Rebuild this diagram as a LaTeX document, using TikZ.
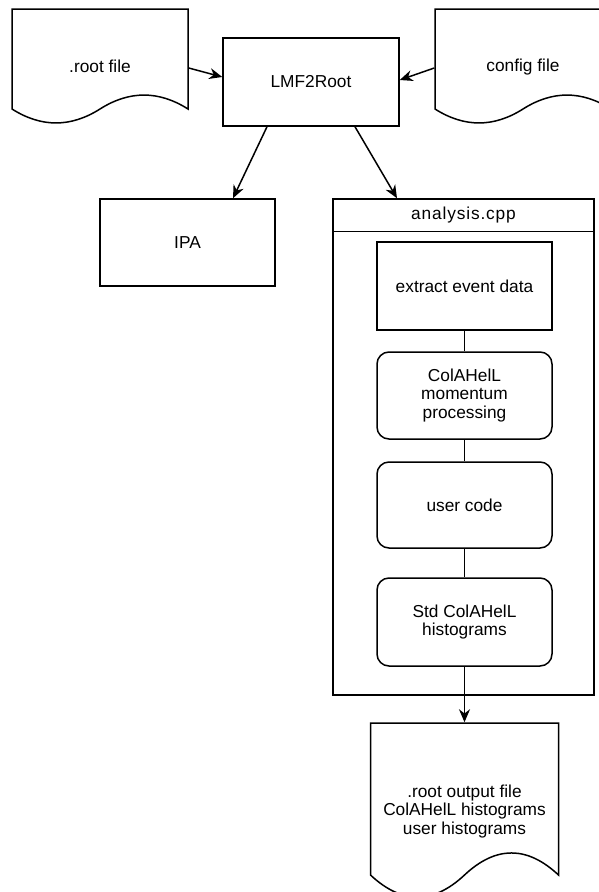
\documentclass[tikz,border=0pt]{standalone}
\usepackage{fontspec}
\setmainfont{Liberation Sans}
\newfontfamily\hdrfont[LetterSpace=5]{Liberation Sans}
\usetikzlibrary{arrows.meta,calc}
\newcommand{\dsize}{\fontsize{17.3}{18.5}\selectfont}
\begin{document}
\begin{tikzpicture}[x=1pt,y=-1pt,line width=1.5pt,font=\dsize,
  box/.style={draw, minimum width=175pt, minimum height=88pt, inner sep=0pt, align=center},
  rbox/.style={box, rounded corners=12pt},
  lbl/.style={inner sep=0pt, align=center},
  arr/.style={-{Stealth[length=13pt,width=11pt]}}]
\useasboundingbox (0,0) rectangle (599,892);
\clip (0,0) rectangle (599,892);
% document outlines
\draw (12,9) -- (188,9) -- (188,109) .. controls (158.67,90.4) and (129.33,90.4) .. (100,109)
  .. controls (70.67,127.6) and (41.33,127.6) .. (12,109) -- cycle;
\draw (435,9) -- (611,9) -- (611,109) .. controls (581.67,90.4) and (552.33,90.4) .. (523,109)
  .. controls (493.67,127.6) and (464.33,127.6) .. (435,109) -- cycle;
\draw (370.5,723) -- (558.5,723) -- (558.5,875) .. controls (527.17,845.6) and (495.83,845.6) .. (464.5,875)
  .. controls (433.17,904.4) and (401.83,904.4) .. (370.5,875) -- cycle;
\node[lbl, minimum width=176pt, minimum height=115.5pt] (root) at (100,66.75) {.root file};
\node[lbl, minimum width=176pt, minimum height=115.5pt] (config) at (523,66.75) {config file};
\node[lbl, minimum width=188pt, minimum height=176.5pt] (out) at (464.5,811.25)
  {.root output file\\ColAHelL histograms\\user histograms};
% boxes
\node[box, minimum width=176pt] (lmf) at (311,82) {LMF2Root};
\node[box, minimum height=87pt] (ipa) at (187.5,242.5) {IPA};
% container
\node[draw, minimum width=261pt, minimum height=496pt, inner sep=0pt] (ana) at (463.5,447) {};
\draw ([yshift=-33pt]ana.north west) -- ([yshift=-33pt]ana.north east);
\node[lbl, font=\hdrfont\dsize] (anahdr) at ($(ana.north)+(0,16.5)$) {analysis.cpp};
\node[box] (extract) at (464.5,286) {extract event data};
\node[rbox, minimum height=87pt] (colahell) at (464.5,395.5) {ColAHelL\\momentum\\processing};
\node[rbox, minimum height=86pt] (user) at (464.5,505) {user code};
\node[rbox] (std) at (464.5,622) {Std ColAHelL\\histograms};
% connectors
\draw[arr] ([yshift=-1.25pt]root.east) -- ([yshift=5pt]lmf.west);
\draw[arr] ([yshift=-1.25pt]config.west) -- ([yshift=2pt]lmf.east);
\draw[arr] ([xshift=-44pt]lmf.south) -- ([xshift=45.5pt]ipa.north);
\draw[arr] ([xshift=44pt]lmf.south) -- ([xshift=-66.5pt]ana.north);
\draw (extract) -- (colahell);
\draw (colahell) -- (user);
\draw (user) -- (std);
\draw[arr] (std) -- (out.north);
\end{tikzpicture}
\end{document}
